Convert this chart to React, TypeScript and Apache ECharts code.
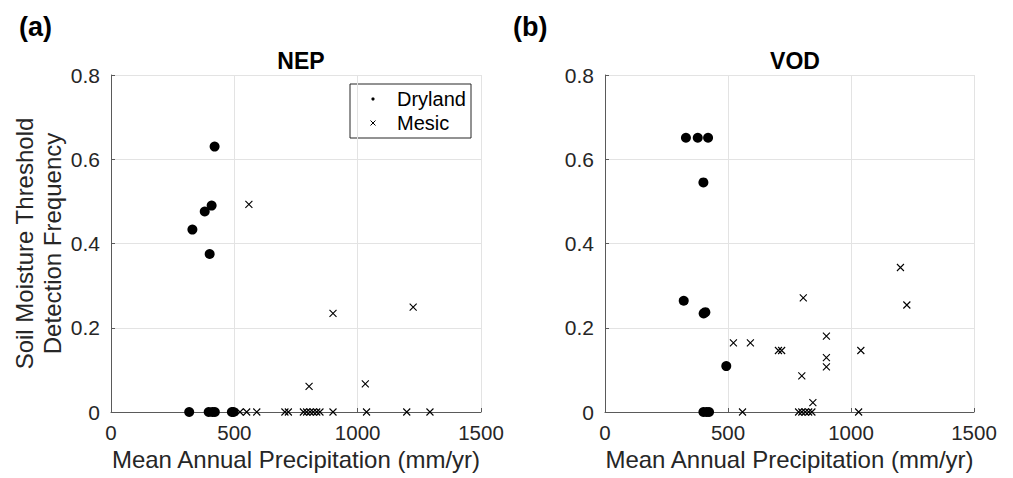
import React, { useEffect, useRef } from "react";
import * as echarts from "echarts";

// NEP panel
const nepDryX = [420, 408, 380, 330, 400, 317, 396, 411, 421, 490, 497];
const nepDryY = [0.63, 0.49, 0.476, 0.433, 0.375, 0, 0, 0, 0, 0, 0];
const nepMesicX = [559, 900, 1225, 803, 1031, 523, 550, 591, 705, 719, 780, 793, 807, 820, 834, 847, 900, 1036, 1199, 1293];
const nepMesicY = [0.493, 0.234, 0.249, 0.061, 0.067, 0, 0, 0, 0, 0, 0, 0, 0, 0, 0, 0, 0, 0, 0, 0];

// VOD panel
const vodDryX = [329, 377, 419, 400, 320, 401, 408, 493, 400, 413, 423];
const vodDryY = [0.651, 0.651, 0.651, 0.545, 0.264, 0.234, 0.237, 0.109, 0, 0, 0];
const vodMesicX = [1201, 1227, 806, 900, 522, 591, 705, 718, 1040, 900, 900, 800, 845, 559, 787, 800, 814, 828, 841, 1031];
const vodMesicY = [0.343, 0.254, 0.271, 0.18, 0.164, 0.164, 0.146, 0.146, 0.146, 0.129, 0.107, 0.086, 0.022, 0, 0, 0, 0, 0, 0, 0];

const panelTitles = ["NEP", "VOD"];
const panelLetters = ["(a)", "(b)"];
const legendNames = ["Dryland", "Mesic"];
const xTicks = [0, 500, 1000, 1500];
const yTicks = [0, 0.2, 0.4, 0.6, 0.8];
const xName = "Mean Annual Precipitation (mm/yr)";
const yName = "Soil Moisture Threshold\nDetection Frequency";

const zip = (xs: number[], ys: number[]) => xs.map((x, i) => [x, ys[i]]);

const FONT = "Liberation Sans";
const TXT = "#262626";
const AX = "#5a5a5a";
const CROSS = "path://M0,0L10,10M0,10L10,0";

export default function App() {
  const ref = useRef<HTMLDivElement>(null);
  useEffect(() => {
    if (!ref.current) return;
    const chart = echarts.init(ref.current, null, { renderer: "svg" });
    const grids = [
      { left: 111, right: 532, top: 75, bottom: 66 },
      { left: 605, right: 39, top: 75, bottom: 66 },
    ];
    const mkX = (i: number) => ({
      type: "value",
      gridIndex: i,
      min: xTicks[0],
      max: xTicks[xTicks.length - 1],
      interval: 500,
      name: xName,
      nameLocation: "middle",
      nameGap: 35,
      nameTextStyle: { fontFamily: FONT, fontSize: 24, color: TXT },
      axisLine: { show: true, lineStyle: { color: AX, width: 1 } },
      axisTick: { show: true, inside: true, length: 4, lineStyle: { color: AX } },
      axisLabel: { fontFamily: FONT, fontSize: 20.5, color: TXT, margin: 10, formatter: (v: number) => String(v) },
      splitLine: { show: true, lineStyle: { color: "#e3e3e3", width: 1 } },
    });
    const mkY = (i: number) => ({
      type: "value",
      gridIndex: i,
      min: yTicks[0],
      max: yTicks[yTicks.length - 1],
      interval: 0.2,
      name: i === 0 ? yName : "",
      nameLocation: "middle",
      nameGap: 44,
      nameTextStyle: { fontFamily: FONT, fontSize: 24, color: TXT, lineHeight: 28 },
      axisLine: { show: true, lineStyle: { color: AX, width: 1 } },
      axisTick: { show: true, inside: true, length: 4, lineStyle: { color: AX } },
      axisLabel: {
        fontFamily: FONT,
        fontSize: 21,
        color: TXT,
        margin: 11,
        formatter: (v: number) => (v === 0 ? "0" : v.toFixed(1)),
      },
      splitLine: { show: true, lineStyle: { color: "#e3e3e3", width: 1 } },
    });
    const dot = (name: string, data: number[][], i: number) => ({
      type: "scatter",
      name,
      xAxisIndex: i,
      yAxisIndex: i,
      data,
      symbol: "circle",
      symbolSize: 10,
      itemStyle: { color: "#000", opacity: 1 },
      z: 3,
    });
    const cross = (name: string, data: number[][], i: number) => ({
      type: "scatter",
      name,
      xAxisIndex: i,
      yAxisIndex: i,
      data,
      symbol: CROSS,
      symbolSize: 7,
      itemStyle: { color: "#000", borderColor: "#000", borderWidth: 1.1, opacity: 1 },
      z: 3,
    });
    const legendX = 350, legendY = 84;
    const titleStyle = { fontFamily: FONT, fontSize: 23, fontWeight: "bold", color: "#000" };
    const letterStyle = { fontFamily: FONT, fontSize: 27, fontWeight: "bold", color: "#000" };
    chart.setOption({
      animation: false,
      grid: grids,
      xAxis: [mkX(0), mkX(1)],
      yAxis: [mkY(0), mkY(1)],
      title: [
        { text: panelTitles[0], left: 296, top: 44, textAlign: "center", textStyle: titleStyle },
        { text: panelTitles[1], left: 790, top: 44, textAlign: "center", textStyle: titleStyle },
        { text: panelLetters[0], left: 14, top: 8, textStyle: letterStyle },
        { text: panelLetters[1], left: 508, top: 8, textStyle: letterStyle },
      ],
      series: [
        dot(legendNames[0], zip(nepDryX, nepDryY), 0),
        cross(legendNames[1], zip(nepMesicX, nepMesicY), 0),
        dot(legendNames[0], zip(vodDryX, vodDryY), 1),
        cross(legendNames[1], zip(vodMesicX, vodMesicY), 1),
      ],
      graphic: [
        {
          type: "group",
          z: 100,
          children: [
            { type: "rect", shape: { x: legendX, y: legendY, width: 121, height: 54 }, style: { fill: "#fff", stroke: TXT, lineWidth: 1 } },
            { type: "circle", shape: { cx: legendX + 23, cy: legendY + 15, r: 1.6 }, style: { fill: "#000" } },
            { type: "line", shape: { x1: legendX + 20.5, y1: legendY + 36.5, x2: legendX + 25.5, y2: legendY + 41.5 }, style: { stroke: "#000", lineWidth: 1 } },
            { type: "line", shape: { x1: legendX + 20.5, y1: legendY + 41.5, x2: legendX + 25.5, y2: legendY + 36.5 }, style: { stroke: "#000", lineWidth: 1 } },
            { type: "text", x: legendX + 47, y: legendY + 15, style: { text: legendNames[0], font: `20px "${FONT}"`, fill: "#000", verticalAlign: "middle" } },
            { type: "text", x: legendX + 47, y: legendY + 39, style: { text: legendNames[1], font: `20px "${FONT}"`, fill: "#000", verticalAlign: "middle" } },
          ],
        },
      ],
    });
    return () => chart.dispose();
  }, []);
  return <div ref={ref} style={{ position: "fixed", left: 0, top: 0, width: 1013, height: 478, background: "#fff" }} />;
}
